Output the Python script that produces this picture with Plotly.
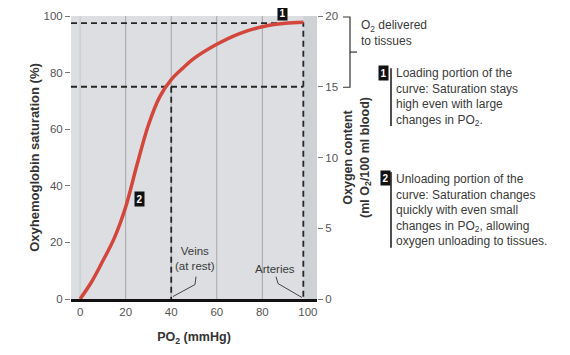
import plotly.graph_objects as go

# ---- data ----
po2 = [0, 5, 10, 15, 20, 25, 30, 35, 40, 45, 50, 60, 70, 80, 90, 98]
saturation = [0, 6, 13.5, 21.5, 32.5, 47.5, 61.5, 71.5, 77.5, 81.5, 85, 90, 93.8, 96.2, 97.4, 97.8]
x_ticks = [0, 20, 40, 60, 80, 100]
y_ticks = [0, 20, 40, 60, 80, 100]
y2_ticks = [0, 5, 10, 15, 20]
grid_x = [20, 40, 60, 80]
vein_po2, vein_sat = 40, 75
artery_po2, artery_sat = 98, 97.5

# ---- geometry (screen pixels; page body has an 8px offset) ----
OFF = 8
W, H = 562, 347
PX0, PX1, PY0, PY1 = 71, 317, 15.5, 299.5   # plot area on screen
L, T = PX0 - OFF, PY0 - OFF
PW, PH = PX1 - PX0, PY1 - PY0
R = W - L - PW
B = H - T - PH
def px(x):
    return (x - PX0) / PW
def py(y):
    return (PY1 - y) / PH

TXT = "#3a3a3a"
SANS = "Liberation Sans, Arial, Helvetica, sans-serif"

fig = go.Figure()

# dashed reference lines
dash_style = dict(color="#262626", width=1.8, dash="6px,4px")
fig.add_trace(go.Scatter(x=[-4, artery_po2, artery_po2], y=[artery_sat, artery_sat, 0],
                         mode="lines", line=dash_style, hoverinfo="skip", showlegend=False))
fig.add_trace(go.Scatter(x=[-4, artery_po2], y=[vein_sat, vein_sat],
                         mode="lines", line=dash_style, hoverinfo="skip", showlegend=False))
fig.add_trace(go.Scatter(x=[vein_po2, vein_po2], y=[vein_sat, 0],
                         mode="lines", line=dash_style, hoverinfo="skip", showlegend=False))

# curve
fig.add_trace(go.Scatter(x=po2, y=saturation, mode="lines",
                         line=dict(color="#d2463c", width=3.5, shape="spline", smoothing=1.0),
                         hoverinfo="skip", showlegend=False))

# invisible trace for right axis
fig.add_trace(go.Scatter(x=[0], y=[0], yaxis="y2", mode="markers",
                         marker=dict(opacity=0), hoverinfo="skip", showlegend=False))

shapes = []
# darker strip at right
shapes.append(dict(type="rect", xref="x", yref="paper", x0=artery_po2, x1=104, y0=0, y1=1,
                   fillcolor="#cfd2d5", line=dict(width=0), layer="below"))
# gridlines
shapes.append(dict(type="line", xref="x", yref="paper", x0=0, x1=0, y0=0, y1=1,
                   line=dict(color="#c6c9cc", width=1), layer="below"))
for gx in grid_x:
    shapes.append(dict(type="line", xref="x", yref="paper", x0=gx, x1=gx, y0=0, y1=1,
                       line=dict(color="#a3a7ab", width=1), layer="below"))
# bracket
br = "#333333"
shapes.append(dict(type="path", xref="paper", yref="paper",
                   path=f"M {px(343)},{py(16.5)} L {px(350)},{py(16.5)} L {px(350)},{py(87)} L {px(343)},{py(87)}",
                   line=dict(color=br, width=1.2)))
shapes.append(dict(type="line", xref="paper", yref="paper",
                   x0=px(350), x1=px(357), y0=py(51.7), y1=py(51.7), line=dict(color=br, width=1.2)))
# side text bars
shapes.append(dict(type="line", xref="paper", yref="paper",
                   x0=px(391), x1=px(391), y0=py(68), y1=py(126), line=dict(color="#222", width=1.6)))
shapes.append(dict(type="line", xref="paper", yref="paper",
                   x0=px(391), x1=px(391), y0=py(172), y1=py(248), line=dict(color="#222", width=1.6)))
# leader lines
shapes.append(dict(type="path", xref="paper", yref="paper",
                   path=f"M {px(196)},{py(277)} L {px(195)},{py(285)} L {px(173)},{py(297)}",
                   line=dict(color="#444", width=1)))
shapes.append(dict(type="path", xref="paper", yref="paper",
                   path=f"M {px(276)},{py(277)} L {px(278)},{py(284)} L {px(302)},{py(298)}",
                   line=dict(color="#444", width=1)))

ann = []
def box(num, x, y):
    ann.append(dict(text=f"<b>{num}</b>", xref="paper", yref="paper", x=px(x), y=py(y),
                    showarrow=False, bgcolor="#111111", borderpad=1.5,
                    font=dict(family=SANS, size=10, color="white"), xanchor="center", yanchor="middle"))
box(1, 282.5, 12)
box(2, 139, 199)
box(1, 383, 73)
box(2, 385, 178)

def text(t, x, y, size=12, xanchor="left", yanchor="top", align="left"):
    ann.append(dict(text=t, xref="paper", yref="paper", x=px(x), y=py(y), showarrow=False,
                    font=dict(family=SANS, size=size, color=TXT), xanchor=xanchor, yanchor=yanchor,
                    align=align))
text("O<sub>2</sub> delivered<br>to tissues", 359, 15)
text("Loading portion of the<br>curve: Saturation stays<br>high even with large<br>changes in PO<sub>2</sub>.", 394, 64)
text("Unloading portion of the<br>curve: Saturation changes<br>quickly with even small<br>changes in PO<sub>2</sub>, allowing<br>oxygen unloading to tissues.", 394, 170)
text("Veins<br>(at rest)", 195, 243, size=11.5, xanchor="center", align="center")
text("Arteries", 275, 261, size=11.5, xanchor="center", align="center")

fig.update_layout(
    width=W, height=H,
    margin=dict(l=L, r=R, t=T, b=B, pad=0),
    paper_bgcolor="white", plot_bgcolor="#dcdee1",
    font=dict(family=SANS, color=TXT),
    shapes=shapes, annotations=ann,
    xaxis=dict(range=[-4, 104], tickvals=x_ticks, showgrid=False, zeroline=False, automargin=False,
               showline=True, linecolor="#111", linewidth=3, ticks="",
               tickfont=dict(size=11.5, color="#555", family=SANS),
               title=dict(text="<b>PO<sub>2</sub> (mmHg)</b>", font=dict(size=12.5, color="#333"), standoff=16)),
    yaxis=dict(range=[0, 100], tickvals=y_ticks, showgrid=False, zeroline=False, automargin=False,
               ticks="outside", ticklen=5, tickcolor="#777",
               tickfont=dict(size=11.5, color="#555", family=SANS),
               title=dict(text="<b>Oxyhemoglobin saturation (%)</b>", font=dict(size=13, color="#333"), standoff=0)),
    yaxis2=dict(range=[0, 20], tickvals=y2_ticks, overlaying="y", side="right", automargin=False,
                showgrid=False, zeroline=False, ticks="outside", ticklen=5, tickcolor="#777",
                tickfont=dict(size=11.5, color="#555", family=SANS),
                title=dict(text="<b>Oxygen content<br>(ml O<sub>2</sub>/100 ml blood)</b>",
                           font=dict(size=12.5, color="#333"), standoff=6)),
)

fig.write_html("out.html")
